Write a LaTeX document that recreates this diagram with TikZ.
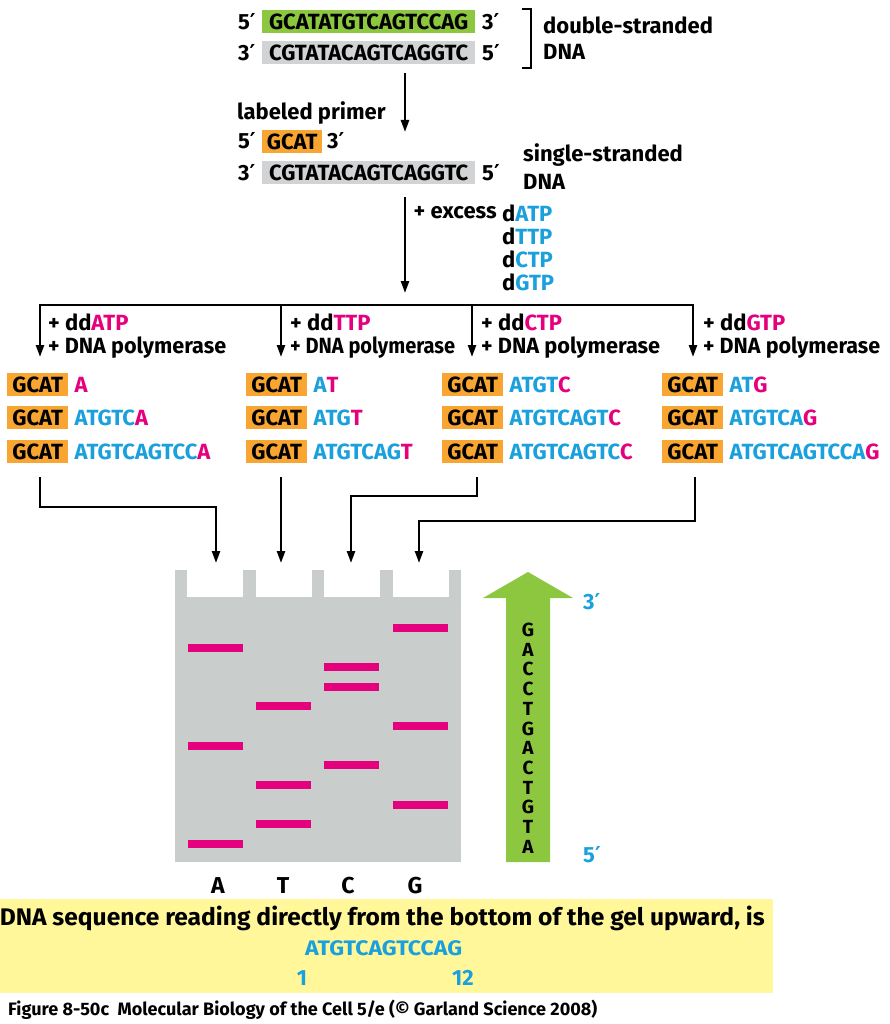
\documentclass[tikz,border=0pt]{standalone}
\usepackage{fontspec}
\usepackage{graphicx}
\setmainfont{Fira Sans}
\newfontfamily\primefont{DejaVu Sans}
\usetikzlibrary{arrows.meta,positioning}
\definecolor{dnagreen}{HTML}{8DC63F}
\definecolor{dnagray}{HTML}{D1D3D4}
\definecolor{primerorange}{HTML}{F8A531}
\definecolor{dnablue}{HTML}{1AA0DC}
\definecolor{ddpink}{HTML}{E5007D}
\definecolor{gelgray}{HTML}{C9CDCB}
\definecolor{seqyellow}{HTML}{FFF799}
\newcommand{\pr}{{\primefont ′}}
\newcommand{\bl}[1]{\textcolor{dnablue}{#1}}
\newcommand{\pk}[1]{\textcolor{ddpink}{#1}}
\begin{document}
\begin{tikzpicture}[x=1pt,y=-1pt,
    lbl/.style={inner sep=0pt, anchor=west, font=\fontsize{22}{26}\selectfont\bfseries},
    strand/.style={lbl, minimum height=23pt, minimum width=213pt, fill=dnagray},
    primer/.style={lbl, minimum height=23pt, minimum width=61pt, fill=primerorange},
    ln/.style={line width=2.4pt},
    arr/.style={ln, -{Triangle[length=12pt,width=8pt]}}]
    \useasboundingbox (0,0) rectangle (890,1024);
    % template and primer
    \node[lbl] (ds5a) at (238,22) {5\pr};
    \node[strand, fill=dnagreen] (dstop) at (262,21.5) {GCATATGTCAGTCCAG};
    \node[lbl] (ds3a) at (482,22) {3\pr};
    \node[lbl] (ds3b) at (238,53) {3\pr};
    \node[strand] (dsbot) at (262,53) {CGTATACAGTCAGGTC};
    \node[lbl] (ds5b) at (482,53) {5\pr};
    \draw[ln] (522,9) -| (531,68) -- (522,68);
    \node[lbl] (dslbl) at (543,25) {double-stranded};
    \node[lbl] (dsdna) at (543,52) {DNA};
    \coordinate (s1) at (405,73);
    \coordinate (e1) at (405,132);
    \draw[arr] (s1) -- (e1);
    \node[lbl] (labeled) at (237,113) {labeled primer};
    \node[lbl] (pr5) at (238,141) {5\pr};
    \node[primer, minimum width=60pt] (primer) at (262,141.5) {GCAT};
    \node[lbl] (pr3) at (327,141) {3\pr};
    \node[lbl] (ss3) at (238,173) {3\pr};
    \node[strand] (ss) at (262,173) {CGTATACAGTCAGGTC};
    \node[lbl] (ss5) at (482,173) {5\pr};
    \node[lbl] (sslbl) at (523,155) {single-stranded};
    \node[lbl] (ssdna) at (523,182) {DNA};
    \coordinate (s2) at (405,197);
    \coordinate (e2) at (405,293);
    \draw[arr] (s2) -- (e2);
    \node[lbl, anchor=east] (excess) at (497,213) {+ excess};
    \node[lbl] (dA) at (502,213) {d\bl{ATP}};
    \node[lbl] (dT) at (502,236) {d\bl{TTP}};
    \node[lbl] (dC) at (502,259) {d\bl{CTP}};
    \node[lbl] (dG) at (502,282) {d\bl{GTP}};
    % four reactions
    \coordinate (brT) at (281,305);
    \coordinate (brC) at (472,305);
    \coordinate (brG) at (693,305);
    \coordinate (tipA) at (40,357);
    \coordinate (tipT) at (281,357);
    \coordinate (tipC) at (472,357);
    \coordinate (tipG) at (693,357);
    \draw[ln, {Triangle[length=12pt,width=8pt]}-{Triangle[length=12pt,width=8pt]}] (tipA) |- (brG) -- (tipG);
    \draw[arr] (brT) -- (tipT);
    \draw[arr] (brC) -- (tipC);
    \foreach \x/\b/\w in {48/A/178,290/T/165,481/C/179,703/G/177} {
        \node[lbl] (dd\b) at (\x,322) {+ dd\pk{\b TP}};
        \node[lbl] (pol\b) at (\x,348) {\resizebox{\w pt}{\height}{+ DNA polymerase}};
    }
    \foreach \n/\bx/\sa/\sb/\sc in {A/7/{}/ATGTC/ATGTCAGTCC, T/246/A/ATG/ATGTCAG,
            C/442/ATGT/ATGTCAGT/ATGTCAGTC, G/662/AT/ATGTCA/ATGTCAGTCCA} {
        \node[primer] (p\n1) at (\bx,384.5) {GCAT};
        \node[lbl, right=6pt of p\n1] (f\n1) {\bl{\sa}\pk{\n}};
        \node[primer] (p\n2) at (\bx,417.5) {GCAT};
        \node[lbl, right=6pt of p\n2] (f\n2) {\bl{\sb}\pk{\n}};
        \node[primer] (p\n3) at (\bx,451.5) {GCAT};
        \node[lbl, right=6pt of p\n3] (f\n3) {\bl{\sc}\pk{\n}};
    }
    % loading the gel
    \coordinate (outA) at (40,477);
    \coordinate (outT) at (281,477);
    \coordinate (outC) at (477,477);
    \coordinate (outG) at (695,477);
    \coordinate (inA) at (216,563);
    \coordinate (inT) at (281,563);
    \coordinate (inC) at (351,563);
    \coordinate (inG) at (419,563);
    \draw[arr] (outA) -- ++(0,30) -| (inA);
    \draw[arr] (outT) -- (inT);
    \draw[arr] (outC) -- ++(0,19) -| (inC);
    \draw[arr] (outG) -- ++(0,44) -| (inG);
    \fill[gelgray] (175,570) rectangle (461,862);
    \foreach \wx in {187,256,324,393}
        \fill[white] (\wx,569) rectangle ++(56,28);
    \foreach \lx/\pos in {188/{1,6,11}, 256/{2,4,8}, 324/{5,9,10}, 393/{3,7,12}}
        \foreach \i in \pos
            \fill[ddpink] (\lx,{840-(\i-1)*19.65}) rectangle ++(55,8);
    \foreach \b/\x in {A/218,T/283,C/348,G/415}
        \node[lbl, anchor=center, font=\fontsize{23}{26}\selectfont\bfseries] (lane\b) at (\x,886) {\b};
    % read-out arrow
    \fill[dnagreen] (506,862) -- (506,598) -- (483,598) -- (528,572) -- (573,598)
        -- (550,598) -- (550,862) -- cycle;
    \foreach \ch [count=\k from 0] in {G,A,C,C,T,G,A,C,T,G,T,A}
        \node[lbl, anchor=center, font=\fontsize{19}{20}\selectfont\bfseries] (rd\k) at (528,{630+\k*19.7}) {\ch};
    \node[lbl, text=dnablue] (end3) at (583,602) {3\pr};
    \node[lbl, text=dnablue] (end5) at (583,855) {5\pr};
    % result
    \fill[seqyellow] (0,899) rectangle (773,993);
    \node[lbl, anchor=east, font=\fontsize{24}{28}\selectfont\bfseries] (reading) at (765,918)
        {\resizebox{765pt}{\height}{DNA sequence reading directly from the bottom of the gel upward, is}};
    \node[lbl, text=dnablue, font=\fontsize{21}{25}\selectfont\bfseries] (seq) at (305,948)
        {\resizebox{157pt}{\height}{ATGTCAGTCCAG}};
    \node[lbl, anchor=center, text=dnablue] (first) at (302,978) {1};
    \node[lbl, anchor=center, text=dnablue] (last) at (463,978) {12};
    \node[lbl, font=\fontsize{18}{22}\selectfont\bfseries] (caption) at (8,1010)
        {\resizebox{589pt}{\height}{Figure 8-50c\ \ Molecular Biology of the Cell 5/e (© Garland Science 2008)}};
\end{tikzpicture}
\end{document}
